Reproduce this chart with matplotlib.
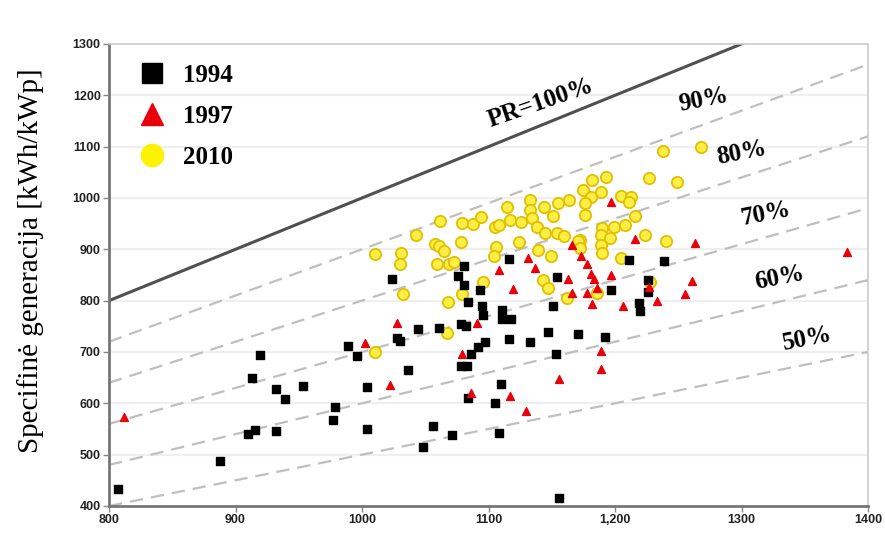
import matplotlib
matplotlib.use("Agg")
import matplotlib.pyplot as plt
from matplotlib.lines import Line2D
import numpy as np

# Irradiation [kWh/m2] vs specific yield [kWh/kWp] per system
x_1994 = [807, 888, 919, 913, 932, 939, 953, 910, 915, 932, 977, 979,
          989, 996, 1036, 1004, 1004, 1056, 1048, 1071, 1105, 1108, 1084, 1086,
          1078, 1083, 1092, 1097, 1028, 1030, 1044, 1061, 1078, 1082,
          1024, 1081, 1076, 1081, 1093, 1084, 1095, 1096,
          1116, 1154, 1211, 1239, 1197, 1226, 1219, 1220, 1151, 1111, 1111, 1118, 1226,
          1116, 1133, 1147, 1171, 1192, 1153, 1110, 1156]
y_1994 = [433, 487, 694, 650, 627, 609, 634, 540, 548, 546, 568, 592,
          712, 693, 665, 631, 550, 556, 514, 538, 601, 542, 610, 696,
          673, 673, 710, 719, 727, 722, 744, 746, 755, 751,
          842, 868, 848, 831, 820, 798, 790, 772,
          881, 847, 879, 878, 820, 816, 796, 779, 790, 782, 764, 764, 840,
          725, 719, 738, 735, 730, 696, 638, 415]

x_1997 = [812, 1002, 1022, 1079, 1086, 1091, 1028, 1108,
          1197, 1216, 1166, 1173, 1178, 1181, 1183, 1197, 1163, 1131, 1137, 1119,
          1166, 1178, 1186, 1182, 1206, 1233, 1227,
          1189, 1189, 1156, 1117, 1130,
          1263, 1383, 1261, 1255]
y_1997 = [573, 717, 636, 696, 621, 756, 756, 860,
          993, 920, 909, 887, 872, 852, 842, 850, 842, 883, 863, 822,
          814, 814, 824, 794, 790, 799, 827,
          702, 666, 647, 615, 585,
          912, 895, 838, 812]

x_2010 = [1010, 1067,
          1010, 1031, 1030, 1043, 1062, 1079, 1088, 1094, 1058, 1061, 1065, 1078,
          1059, 1069, 1073, 1032, 1068, 1079, 1096, 1105, 1106, 1104,
          1238, 1227, 1249, 1182, 1193, 1175, 1189, 1181, 1205, 1213, 1211, 1164,
          1176, 1155, 1133, 1144, 1115, 1151, 1176, 1133, 1134, 1117, 1126, 1108,
          1138, 1145, 1154, 1160, 1124, 1139, 1149, 1172, 1190, 1199, 1208, 1216,
          1189, 1196, 1224, 1240, 1189, 1190, 1205, 1171, 1143, 1147, 1162, 1186,
          1228, 1172, 1268]
y_2010 = [699, 736,
          891, 892, 872, 928, 955, 951, 949, 962, 910, 907, 897, 915,
          872, 872, 876, 813, 798, 813, 836, 943, 905, 886,
          1092, 1038, 1032, 1035, 1040, 1016, 1012, 1001, 1003, 1001, 993, 996,
          990, 990, 996, 983, 982, 964, 967, 977, 961, 957, 954, 948,
          944, 931, 931, 926, 915, 899, 886, 918, 941, 944, 948, 964,
          928, 922, 928, 917, 909, 892, 883, 917, 840, 824, 805, 814,
          837, 902, 1099]

# Performance-ratio reference lines
pr_levels = [0.9, 0.8, 0.7, 0.6, 0.5]
pr_labels = ["90%", "80%", "70%", "60%", "50%"]
pr_label_pos = [(1270, 1191), (1300, 1087), (1319, 970), (1330, 844), (1352, 725)]

x_ticks = [800, 900, 1000, 1100, 1200, 1300, 1400]
x_ticklabels = ["800", "900", "1000", "1100", "1,200", "1300", "1400"]
y_ticks = list(range(400, 1301, 100))

fig = plt.figure(figsize=(8.85, 5.33), dpi=100)
ax = fig.add_axes([0.1232, 0.0507, 0.8576, 0.8668])
ax.set_xlim(800, 1400)
ax.set_ylim(400, 1300)

for yv in y_ticks[1:-1]:
    ax.axhline(yv, color="#efefef", lw=1.6, zorder=0)

xs = np.array([800, 1400])
ax.plot(xs, xs, color="#505050", lw=2.2, zorder=1, solid_capstyle="butt")
for pr in pr_levels:
    ax.plot(xs, pr * xs, color="#bfbfbf", lw=1.6, dashes=(6, 3.6), zorder=1)

ax.scatter(x_2010, y_2010, s=66, marker="o", facecolor="#ffef45",
           edgecolor="#e0c000", linewidth=1.3, zorder=2)
ax.scatter(x_1994, y_1994, s=38, marker="s", color="black", zorder=3)
ax.scatter(x_1997, y_1997, s=32, marker="^", color="#e8000b", zorder=4)

serif_bold = dict(family="Liberation Serif", weight="bold", size=18)
ax.text(1141, 1185, "PR=100%", rotation=19, ha="center", va="center", **serif_bold)
for lab, (tx, ty) in zip(pr_labels, pr_label_pos):
    ax.text(tx, ty, lab, rotation=11, ha="center", va="center", **serif_bold)

handles = [
    Line2D([], [], ls="none", marker="s", ms=15, color="black"),
    Line2D([], [], ls="none", marker="^", ms=16, color="#e8000b"),
    Line2D([], [], ls="none", marker="o", ms=16, color="#fff200"),
]
leg = ax.legend(handles, ["1994", "1997", "2010"], loc="upper left",
                bbox_to_anchor=(0.0, 0.995), frameon=False,
                prop=dict(family="Liberation Serif", weight="bold", size=18),
                handletextpad=0.25, labelspacing=0.72, borderaxespad=0.3)

ax.set_xticks(x_ticks)
ax.set_xticklabels(x_ticklabels)
ax.set_yticks(y_ticks)
for lbl in ax.get_xticklabels() + ax.get_yticklabels():
    lbl.set_family("Liberation Sans")
    lbl.set_fontsize(9)
    lbl.set_weight("bold")
    lbl.set_color("#222222")
ax.tick_params(direction="out", length=4, width=1, color="#888888", pad=2)

for side in ("left", "bottom"):
    ax.spines[side].set_color("#777777")
    ax.spines[side].set_linewidth(2)
for side in ("top", "right"):
    ax.spines[side].set_color("#cccccc")
    ax.spines[side].set_linewidth(1.2)

fig.text(0.035, 0.51, "Specifinė generacija [kWh/kWp]", rotation=90,
         ha="center", va="center", family="Liberation Serif", size=21)

fig.savefig("out.png", dpi=100)
